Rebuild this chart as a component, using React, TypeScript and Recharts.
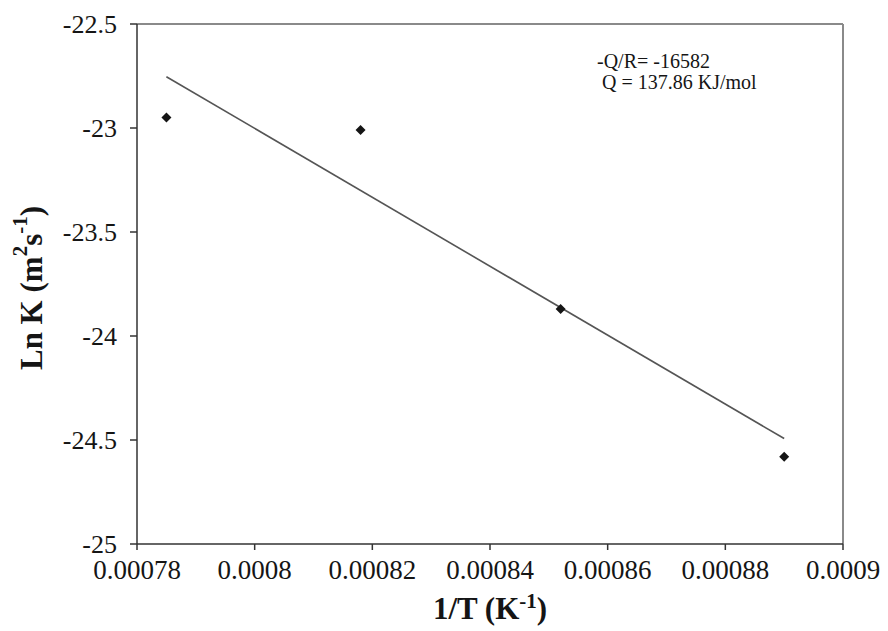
import {
  ReferenceLine,
  Scatter,
  ScatterChart,
  XAxis,
  YAxis,
} from "recharts";

// measured points (1/T, ln K)
const invT = [0.000785, 0.000818, 0.000852, 0.00089];
const lnK = [-22.95, -23.01, -23.87, -24.58];

const xTicks = [0.00078, 0.0008, 0.00082, 0.00084, 0.00086, 0.00088, 0.0009];
const xTickLabels = ["0.00078", "0.0008", "0.00082", "0.00084", "0.00086", "0.00088", "0.0009"];
const yTicks = [-25, -24.5, -24, -23.5, -23, -22.5];
const yTickLabels = ["-25", "-24.5", "-24", "-23.5", "-23", "-22.5"];

const noteLines = ["-Q/R= -16582", " Q = 137.86 KJ/mol"];

const points = invT.map((x, i) => ({ x, y: lnK[i] }));

// least-squares trendline over the measured range
function fitLine(xs: number[], ys: number[]) {
  const n = xs.length;
  const mx = xs.reduce((a, b) => a + b, 0) / n;
  const my = ys.reduce((a, b) => a + b, 0) / n;
  let sxy = 0;
  let sxx = 0;
  for (let i = 0; i < n; i++) {
    sxy += (xs[i] - mx) * (ys[i] - my);
    sxx += (xs[i] - mx) * (xs[i] - mx);
  }
  const slope = sxy / sxx;
  const icpt = my - slope * mx;
  const x0 = Math.min(...xs);
  const x1 = Math.max(...xs);
  return [
    { x: x0, y: icpt + slope * x0 },
    { x: x1, y: icpt + slope * x1 },
  ];
}

const trend = fitLine(invT, lnK);

const font = "'Liberation Serif', 'Times New Roman', serif";
const ink = "#151515";

function Diamond(props: any) {
  const { cx, cy } = props;
  const r = 5;
  return (
    <polygon
      points={`${cx},${cy - r} ${cx + r},${cy} ${cx},${cy + r} ${cx - r},${cy}`}
      fill={ink}
    />
  );
}

function XTick({ x, y, payload }: any) {
  const label = xTickLabels[xTicks.indexOf(payload.value)] ?? String(payload.value);
  return (
    <text x={x} y={y + 29} textAnchor="middle" fontFamily={font} fontSize={27} fill={ink}>
      {label}
    </text>
  );
}

function YTick({ x, y, payload }: any) {
  const label = yTickLabels[yTicks.indexOf(payload.value)] ?? String(payload.value);
  return (
    <text x={x} y={y + 9} textAnchor="end" fontFamily={font} fontSize={26} fill={ink}>
      {label}
    </text>
  );
}

function YTitle({ viewBox }: any) {
  const cx = viewBox.x + 31;
  const cy = viewBox.y + viewBox.height / 2 + 4;
  return (
    <text
      x={cx}
      y={cy}
      transform={`rotate(-90, ${cx}, ${cy})`}
      textAnchor="middle"
      dominantBaseline="central"
      fontFamily={font}
      fontWeight="bold"
      fontSize={31}
      fill={ink}
    >
      Ln K (m
      <tspan dy={-11} fontSize={21}>2</tspan>
      <tspan dy={11}>s</tspan>
      <tspan dy={-11} fontSize={21}>-1</tspan>
      <tspan dy={11}>)</tspan>
    </text>
  );
}

function XTitle({ viewBox }: any) {
  const cx = viewBox.x + viewBox.width / 2;
  return (
    <text
      x={cx}
      y={619}
      textAnchor="middle"
      fontFamily={font}
      fontWeight="bold"
      fontSize={31}
      fill={ink}
    >
      1/T (K
      <tspan dy={-11} fontSize={21}>-1</tspan>
      <tspan dy={11}>)</tspan>
    </text>
  );
}

export default function App() {
  return (
    <div
      style={{
        position: "absolute",
        left: 0,
        top: 0,
        width: 888,
        height: 631,
        background: "#fff",
        fontFamily: font,
      }}
    >
      <ScatterChart width={888} height={631} margin={{ top: 24, right: 45, left: 0, bottom: 0 }}>
        <XAxis
          type="number"
          dataKey="x"
          domain={[0.00078, 0.0009]}
          ticks={xTicks}
          allowDataOverflow
          stroke="#333"
          strokeWidth={1.5}
          tickSize={6}
          tickMargin={0}
          tick={<XTick />}
          height={87}
          label={<XTitle />}
        />
        <YAxis
          type="number"
          dataKey="y"
          domain={[-25, -22.5]}
          ticks={yTicks}
          allowDataOverflow
          width={137}
          stroke="#333"
          strokeWidth={1.5}
          tickSize={7}
          tickMargin={13}
          tick={<YTick />}
          label={<YTitle />}
        />
        <ReferenceLine y={-22.5} stroke="#8a8a8a" strokeWidth={2} />
        <ReferenceLine x={0.0009} stroke="#8a8a8a" strokeWidth={2} />
        <Scatter
          data={trend}
          line={{ stroke: "#555", strokeWidth: 1.6 }}
          shape={() => <g />}
          isAnimationActive={false}
        />
        <Scatter data={points} shape={<Diamond />} isAnimationActive={false} />
      </ScatterChart>
      <div
        style={{
          position: "absolute",
          left: 597,
          top: 51,
          fontFamily: font,
          fontSize: 20,
          lineHeight: "21px",
          color: ink,
          whiteSpace: "pre",
        }}
      >
        {noteLines.map((l) => (
          <div key={l}>{l}</div>
        ))}
      </div>
    </div>
  );
}
